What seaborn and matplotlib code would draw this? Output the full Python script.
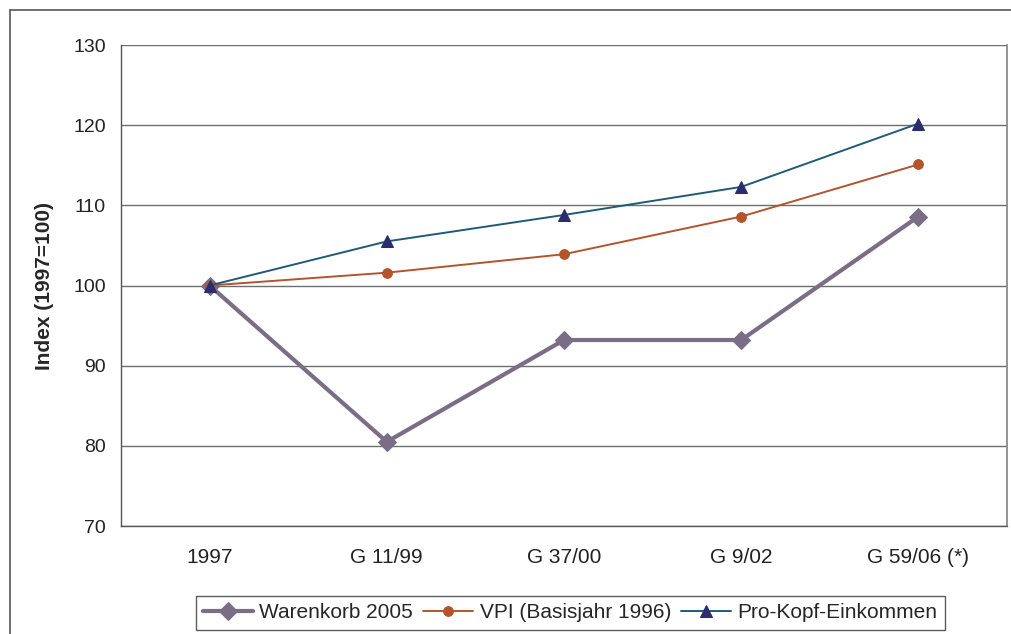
import numpy as np
import pandas as pd
import seaborn as sns
import matplotlib.pyplot as plt
from matplotlib.patches import Rectangle

categories = ["1997", "G 11/99", "G 37/00", "G 9/02", "G 59/06 (*)"]
warenkorb = [100.0, 80.5, 93.2, 93.2, 108.6]
vpi = [100.0, 101.6, 103.9, 108.6, 115.1]
prokopf = [100.0, 105.5, 108.8, 112.3, 120.2]

series = {
    "Warenkorb 2005": warenkorb,
    "VPI (Basisjahr 1996)": vpi,
    "Pro-Kopf-Einkommen": prokopf,
}
df = pd.DataFrame([
    {"pos": i, "cat": c, "serie": name, "wert": v}
    for name, vals in series.items()
    for i, (c, v) in enumerate(zip(categories, vals))
])

sns.set_theme(style="white")
plt.rcParams["font.family"] = ["Liberation Sans", "DejaVu Sans"]

fig = plt.figure(figsize=(10.11, 6.34), dpi=100)
ax = fig.add_axes([121 / 1011, 108 / 634, 886 / 1011, 481 / 634])

styles = {
    "Warenkorb 2005": dict(color="#7a6d86", lw=3, marker="D", ms=9,
                           mfc="#7a6d86", mec="#7a6d86", zorder=3),
    "VPI (Basisjahr 1996)": dict(color="#b2552c", lw=1.4, marker="o", ms=7,
                                 mfc="#b2552c", mec="#b2552c", zorder=4),
    "Pro-Kopf-Einkommen": dict(color="#1f5b76", lw=1.4, marker="^", ms=8.5,
                               mfc="#2c2b6b", mec="#2c2b6b", zorder=5),
}
for name in series:
    st = styles[name]
    sns.lineplot(data=df[df["serie"] == name], x="pos", y="wert", ax=ax,
                 color=st["color"], linewidth=st["lw"], marker=st["marker"],
                 markersize=st["ms"], markerfacecolor=st["mfc"],
                 markeredgecolor=st["mec"], label=name, zorder=st["zorder"],
                 legend=False)

ax.set_xlim(-0.5, 4.5)
ax.set_ylim(70, 130)
ax.set_yticks(np.arange(70, 131, 10))
ax.set_xticks(range(len(categories)))
ax.set_xticklabels(categories)
ax.set_xticks(np.arange(-0.5, 4.6, 1), minor=True)
ax.tick_params(axis="x", which="major", length=0, pad=16, labelsize=15, colors="#222222")
ax.tick_params(axis="x", which="minor", length=6, width=1, color="#555555", direction="out")
ax.tick_params(axis="y", length=6, width=1, color="#555555", direction="out",
               labelsize=14, labelcolor="#222222", pad=5)
ax.xaxis.set_tick_params(bottom=True)
ax.yaxis.grid(True, color="#6e6e6e", lw=1)
ax.set_axisbelow(True)
for s in ["left", "bottom"]:
    ax.spines[s].set_color("#555555")
    ax.spines[s].set_linewidth(1)
ax.spines["top"].set_visible(False)
ax.spines["right"].set_color("#888888")
ax.set_xlabel("")
ax.set_ylabel("Index (1997=100)", fontsize=15, fontweight="bold", labelpad=14)

# outer chart border
fig.patches.append(Rectangle((10 / 1011, -0.1), 1.2, (624 / 634) + 0.1,
                             transform=fig.transFigure, fill=False,
                             edgecolor="#555555", lw=1.2))

handles, labels = ax.get_legend_handles_labels()
leg = fig.legend(handles, labels, loc="upper center", bbox_to_anchor=(0.564, 0.06),
                 ncol=3, frameon=True, fancybox=False, fontsize=15,
                 handlelength=2.4, handletextpad=0.3, columnspacing=0.5,
                 borderpad=0.35, borderaxespad=0)
leg.get_frame().set_edgecolor("#333333")
leg.get_frame().set_linewidth(1)

fig.savefig("out.png", dpi=100)
